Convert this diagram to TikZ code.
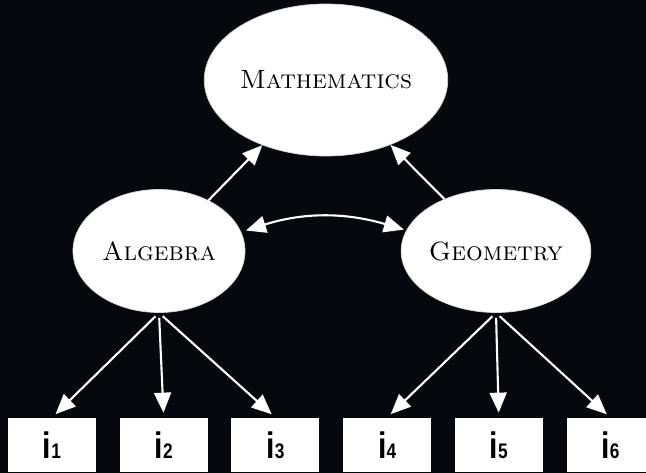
\documentclass[tikz,border=0pt]{standalone}
\usepackage{fontspec}
\usepackage{tikz}
\usetikzlibrary{shapes.geometric, arrows.meta, positioning}
\newfontfamily\itemfont[FakeStretch=0.82]{Liberation Sans}
\definecolor{bgdark}{HTML}{07070E}
\definecolor{rimgray}{HTML}{D8D8D8}
\newcommand{\itm}[1]{{\itemfont\bfseries\fontsize{21}{21}\selectfont i\fontsize{12}{12}\selectfont #1}}
\tikzset{
  latent/.style={
    ellipse, inner sep=0pt,
    minimum width=3.44cm, minimum height=2.46cm,
    fill=white, draw=rimgray, thin,
    font=\fontsize{15}{18}\selectfont,
  },
  indicator/.style={
    rectangle, inner sep=0pt,
    minimum width=1.76cm, minimum height=1.08cm,
    fill=white, draw=none,
  },
  arrow/.style={-{Triangle[length=0.4cm,width=0.34cm]}, line width=1.2pt, color=white},
  both/.style={{Triangle[length=0.4cm,width=0.34cm]}-{Triangle[length=0.4cm,width=0.34cm]}, line width=1.2pt, color=white},
}
\begin{document}
\begin{tikzpicture}[node distance=0.46cm]
  \fill[bgdark] (0,0) rectangle (12.92,9.46);
  \useasboundingbox (0,0) rectangle (12.92,9.46);
  \node[latent,minimum width=4.16cm,minimum height=3.04cm] (math) at (6.52,7.86) {\textsc{Mathematics}};
  \node[latent] (alg) at (3.18,4.44) {\textsc{Algebra}};
  \node[latent,minimum width=3.36cm] (geo) at (9.92,4.44) {\textsc{Geometry}};
  \node[indicator] (i1) at (1.04,0.56) {\itm{1}};
  \node[indicator,right=of i1] (i2) {\itm{2}};
  \node[indicator,right=of i2] (i3) {\itm{3}};
  \node[indicator,right=of i3] (i4) {\itm{4}};
  \node[indicator,right=of i4] (i5) {\itm{5}};
  \node[indicator,right=of i5] (i6) {\itm{6}};
  \draw[arrow] (alg)--(math);
  \draw[arrow] (geo)--(math);
  \draw[both,shorten <=0.1cm,shorten >=0.05cm] (alg.13) to[bend left=17] (geo.167);
  \draw[arrow,shorten <=0.1cm,shorten >=0.1cm] (alg.south)--(i1.north);
  \draw[arrow,shorten <=0.1cm,shorten >=0.1cm] (alg.south)--(i2.north);
  \draw[arrow,shorten <=0.1cm,shorten >=0.1cm] (alg.south)--(i3.north);
  \draw[arrow,shorten <=0.1cm,shorten >=0.1cm] (geo.south)--(i4.north);
  \draw[arrow,shorten <=0.1cm,shorten >=0.1cm] (geo.south)--(i5.north);
  \draw[arrow,shorten <=0.1cm,shorten >=0.1cm] (geo.south)--(i6.north);
\end{tikzpicture}
\end{document}
